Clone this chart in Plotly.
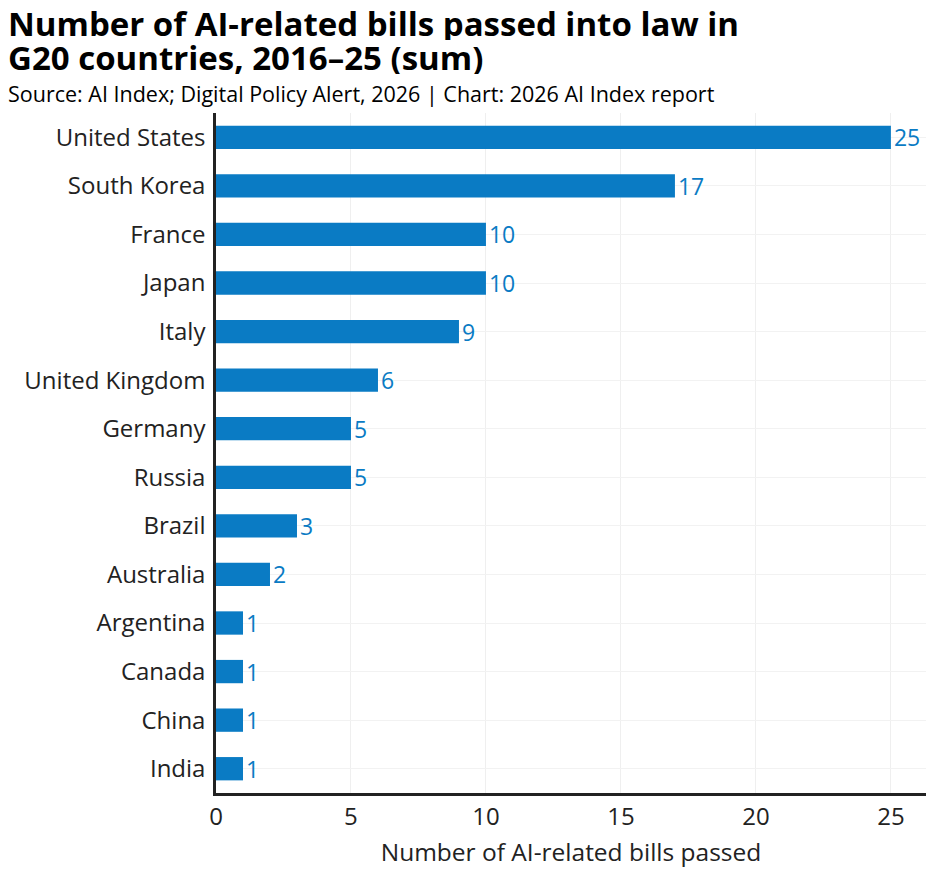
import plotly.graph_objects as go

countries = ["United States", "South Korea", "France", "Japan", "Italy", "United Kingdom",
             "Germany", "Russia", "Brazil", "Australia", "Argentina", "Canada", "China", "India"]
bills = [25, 17, 10, 10, 9, 6, 5, 5, 3, 2, 1, 1, 1, 1]

title_lines = ["Number of AI-related bills passed into law in", "G20 countries, 2016–25 (sum)"]
subtitle = "Source: AI Index; Digital Policy Alert, 2026 | Chart: 2026 AI Index report"

BLUE = "#0A7BC4"
FONT = "Open Sans"

# the page body has an 8px margin, so the margins below are shifted to compensate
PLOT_TOP = 113
PLOT_H = 680


def paper_y(px):
    # pixel row in the screenshot -> paper coordinate
    return 1 + (PLOT_TOP - px) / PLOT_H


fig = go.Figure(
    go.Bar(
        x=bills,
        y=countries,
        orientation="h",
        width=0.48,
        marker=dict(color=BLUE, line=dict(width=0)),
        text=bills,
        textposition="outside",
        constraintext="none",
        cliponaxis=False,
        textfont=dict(color=BLUE, size=23, family=FONT),
    )
)

annotations = []
for line, py in zip(title_lines, [23, 57]):
    annotations.append(dict(
        text=f"<b>{line}</b>",
        xref="paper", yref="paper", x=-0.296, y=paper_y(py),
        xanchor="left", yanchor="middle", showarrow=False,
        height=33, valign="middle",
        font=dict(family=FONT, size=33, color="black"),
    ))
annotations.append(dict(
    text=subtitle,
    xref="paper", yref="paper", x=-0.296, y=paper_y(93),
    xanchor="left", yanchor="middle", showarrow=False,
    font=dict(family=FONT, size=21.5, color="black"),
))

fig.update_layout(
    width=936,
    height=872,
    margin=dict(l=208, r=18, t=105, b=87),
    plot_bgcolor="white",
    paper_bgcolor="white",
    font=dict(family=FONT, color="#222222"),
    showlegend=False,
    annotations=annotations,
)

fig.update_xaxes(
    range=[0, 26.3],
    tickvals=[0, 5, 10, 15, 20, 25],
    tickfont=dict(size=24, color="#222222"),
    showgrid=True, gridcolor="#EFEFEF", gridwidth=1,
    showline=True, linecolor="#222222", linewidth=2.5,
    zeroline=False,
    ticks="", ticklen=0,
    title=dict(text="Number of AI-related bills passed", font=dict(size=24.5, color="#222222"), standoff=14),
)

fig.update_yaxes(
    autorange="reversed",
    tickfont=dict(size=24, color="#222222"),
    showgrid=True, gridcolor="#F2F2F2", gridwidth=1,
    showline=True, linecolor="#222222", linewidth=2.5,
    ticks="", ticklabelstandoff=3,
)

fig.write_html("out.html")
